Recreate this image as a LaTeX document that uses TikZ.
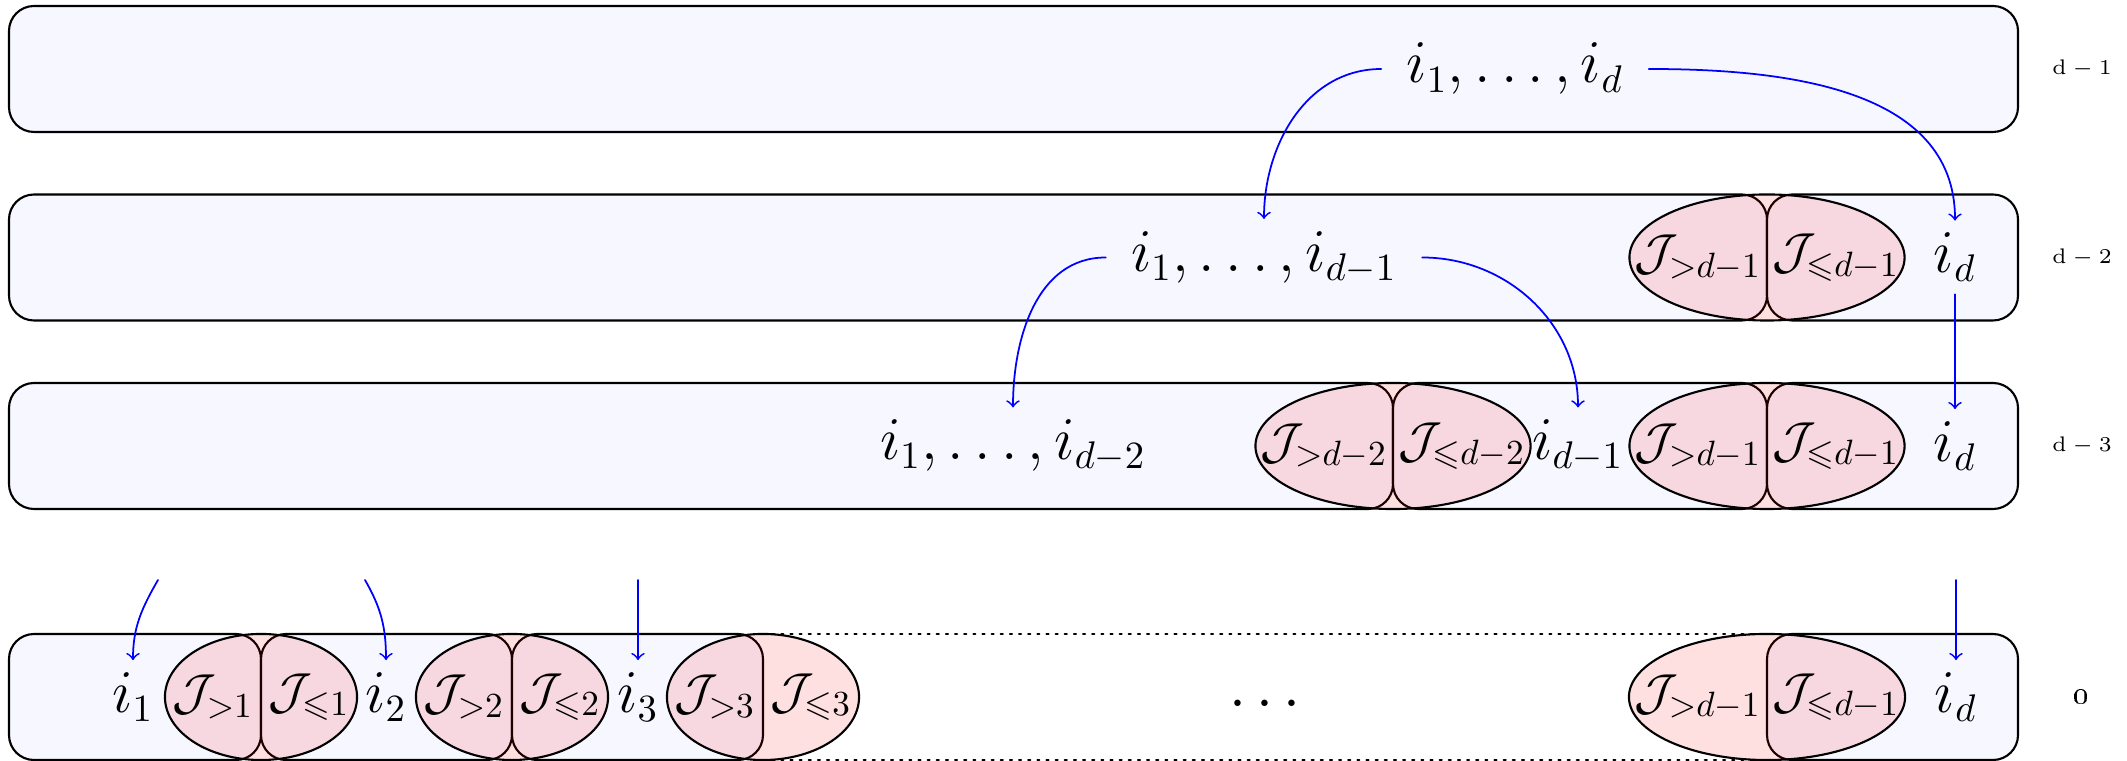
\documentclass[tikz,border=0pt]{standalone}
\usepackage{amssymb}
\usetikzlibrary{shapes.geometric}
\definecolor{bandfill}{HTML}{F7F7FF}
\definecolor{flow}{HTML}{0000FF}
\newcommand{\bigtext}{\fontsize{16}{19}\selectfont}
\newcommand{\jtext}{\fontsize{14.5}{17}\selectfont}
\newcommand{\lvltext}{\fontsize{6}{7}\selectfont}
\newcommand{\ya}{692}
\newcommand{\yb}{503.5}
\newcommand{\yc}{315}
\newcommand{\yd}{64}
\newcommand{\band}[3]{%
  \draw[band] (#1,#3-63) rectangle (#2,#3+63);
}
\newcommand{\jpair}[5]{%
  \node[jell, minimum width=#4] (#1) at (#2,#3) {};
  \node[jlab] (#1-gt) at ([xshift=-#4/4]#1.center) {$\mathcal{J}_{>#5}$};
  \node[jlab] (#1-le) at ([xshift=#4/4]#1.center) {$\mathcal{J}_{\leqslant #5}$};
}
\tikzset{
  band/.style={draw=black, fill=bandfill, line width=0.6pt, rounded corners=0.25cm},
  jell/.style={ellipse, draw=black, fill=red, fill opacity=0.12, draw opacity=1, line width=0.6pt,
               minimum height=1.26cm, inner sep=0pt, outer sep=0pt},
  jlab/.style={font=\jtext, inner sep=0pt},
  idx/.style={font=\bigtext, inner xsep=7pt},
  lvl/.style={font=\lvltext},
  flowarrow/.style={->, flow, line width=0.5pt},
}

\begin{document}
\begin{tikzpicture}[x=0.01cm, y=0.01cm, line cap=round, line join=round]
\useasboundingbox (0,0) rectangle (2127,761);

% ---------------- bands ----------------
\band{9}{2018}{\ya}
\band{9}{1767}{\yb}
\band{1767}{2018}{\yb}
\band{9}{1393}{\yc}
\band{1393}{1767}{\yc}
\band{1767}{2018}{\yc}
\foreach \l/\r in {9/261, 261/512, 512/763, 1767/2018}{
  \band{\l}{\r}{\yd}
}
\draw[dotted, line width=0.6pt] (763,\yd+63) -- (1767,\yd+63);
\draw[dotted, line width=0.6pt] (763,\yd-63) -- (1767,\yd-63);

% ---------------- ellipse pairs ----------------
\jpair{pb}{1767}{\yb}{2.75cm}{d-1}
\jpair{pc}{1393}{\yc}{2.75cm}{d-2}
\jpair{pcc}{1767}{\yc}{2.75cm}{d-1}
\foreach \s/\k in {261/1, 512/2, 763/3}{
  \jpair{pd\k}{\s}{\yd}{1.92cm}{\k}
}
\jpair{pdd}{1767}{\yd}{2.76cm}{d-1}

% ---------------- indices ----------------
\node[idx] (ta) at (1515,\ya) {$i_1,\ldots,i_d$};
\node[idx] (tb) at (1264,\yb) {$i_1,\ldots,i_{d-1}$};
\node[idx] (tbd) at (1955,\yb) {$i_d$};
\node[idx] (tc) at (1013,\yc) {$i_1,\ldots,i_{d-2}$};
\node[idx] (tcm) at (1578,\yc) {$i_{d-1}$};
\node[idx] (tcd) at (1955,\yc) {$i_d$};
\foreach \x/\k in {133/1, 386/2, 638/3}
  \node[idx] (td\k) at (\x,\yd) {$i_\k$};
\node[idx] (tdots) at (1265,\yd-8) {$\cdots$};
\node[idx] (tdd) at (1956,\yd) {$i_d$};

% ---------------- levels ----------------
\foreach \y/\lab [count=\n] in {\ya/{$\mathrm{d}-1$}, \yb/{$\mathrm{d}-2$}, \yc/{$\mathrm{d}-3$}, \yd/{\fontsize{9}{10}\selectfont\oldstylenums{0}}}
  \node[lvl] (lv\n) at (2082,\y) {\lab};

% ---------------- arrows ----------------
\coordinate (s1) at (158,181);
\coordinate (s2) at (365,181);
\coordinate (s3) at (638,181);
\coordinate (s4) at (1956,181);
\draw[flowarrow] (ta.west) to[out=180,in=90] (tb.north);
\draw[flowarrow] (ta.east) to[out=0,in=90] (tbd.north);
\draw[flowarrow] (tb.west) to[out=180,in=90] (tc.north);
\draw[flowarrow] (tb.east) to[out=0,in=90] (tcm.north);
\draw[flowarrow] (tbd.south) -- (tcd.north);
\draw[flowarrow] (s1) to[out=240,in=90] (td1.north);
\draw[flowarrow] (s2) to[out=-60,in=90] (td2.north);
\draw[flowarrow] (s3) -- (td3.north);
\draw[flowarrow] (s4) -- (tdd.north);

\end{tikzpicture}
\end{document}
